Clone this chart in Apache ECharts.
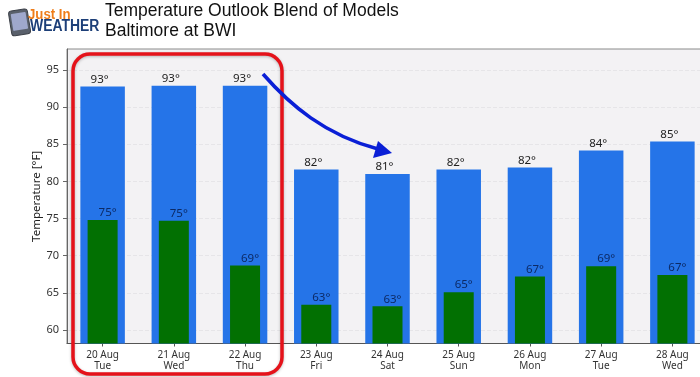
<!DOCTYPE html>
<html>
<head>
<meta charset="utf-8">
<style>html,body{margin:0;padding:0;background:#fff;overflow:hidden}#c{width:700px;height:377px}</style>
<script src="https://cdn.jsdelivr.net/npm/echarts@6/dist/echarts.min.js"></script>
</head>
<body>
<div id="c"></div>
<script>
const categories = ['20 Aug\nTue','21 Aug\nWed','22 Aug\nThu','23 Aug\nFri','24 Aug\nSat','25 Aug\nSun','26 Aug\nMon','27 Aug\nTue','28 Aug\nWed'];
const highs = [92.75,92.85,92.85,81.6,81.0,81.6,81.85,84.15,85.35];
const lows = [74.8,74.7,68.7,63.4,63.2,65.1,67.2,68.6,67.4];
const highLabels = ['93°','93°','93°','82°','81°','82°','82°','84°','85°'];
const lowLabels = ['75°','75°','69°','63°','63°','65°','67°','69°','67°'];
const yTicks = [60,65,70,75,80,85,90,95];
const titleLines = 'Temperature Outlook Blend of Models\nBaltimore at BWI';
const yName = 'Temperature [°F]';

const font = '"Noto Sans", "Open Sans", sans-serif';
const chart = echarts.init(document.getElementById('c'), null, {renderer:'canvas'});
const xAxisBase = {
  type:'category', data:categories, position:'bottom', boundaryGap:true
};
chart.setOption({
  animation:false,
  backgroundColor:'#ffffff',
  title:{
    text:titleLines, left:100, top:-4,
    textStyle:{fontFamily:'"Liberation Sans", Arial, sans-serif', fontSize:17.5, fontWeight:'normal', color:'#111', lineHeight:20}
  },
  grid:{left:67, width:641, top:49, height:294.5, outerBoundsMode:'none', show:true, backgroundColor:'#f3f2f4', borderColor:'#8a8a8a', borderWidth:1},
  xAxis:[
    Object.assign({}, xAxisBase, {
      axisLine:{show:true, lineStyle:{color:'#555', width:1}},
      axisTick:{show:true, alignWithLabel:true, length:3, lineStyle:{color:'#555'}},
      axisLabel:{show:true, interval:0, fontFamily:font, fontSize:10, color:'#333', lineHeight:11, margin:6},
      splitLine:{show:false}
    }),
    Object.assign({}, xAxisBase, {
      axisLine:{show:false}, axisTick:{show:false}, axisLabel:{show:false}, splitLine:{show:false}
    })
  ],
  yAxis:{
    type:'value', min:58.2, max:97.8,
    name:yName, nameLocation:'middle', nameGap:24, nameMoveOverlap:false,
    nameTextStyle:{fontFamily:font, fontSize:11.5, color:'#222'},
    axisLine:{show:true, lineStyle:{color:'#666', width:1}},
    axisTick:{show:true, length:4, lineStyle:{color:'#666'}, customValues:yTicks},
    axisLabel:{fontFamily:font, fontSize:11, color:'#333', margin:8, customValues:yTicks},
    splitLine:{show:true, lineStyle:{color:'#e6e5e8', width:1, type:'dashed'}}
  },
  series:[
    {
      type:'bar', name:'High', xAxisIndex:0, data:highs, barWidth:44.5,
      itemStyle:{color:'#2574e8'}, z:2,
      label:{show:true, position:'top', distance:1, offset:[-3,0], fontFamily:font, fontSize:11.5, color:'#222',
        formatter:p=>highLabels[p.dataIndex]}
    },
    {
      type:'bar', name:'Low', xAxisIndex:1, data:lows, barWidth:30,
      itemStyle:{color:'#027002'}, z:3,
      label:{show:true, position:'top', distance:1, offset:[5,0], fontFamily:font, fontSize:11.5, color:'#0c2a66',
        formatter:p=>lowLabels[p.dataIndex]}
    }
  ],
  graphic:[
    {type:'rect', z:50, shape:{x:73,y:54,width:209,height:320,r:17},
      style:{fill:'none', stroke:'#e5121a', lineWidth:3.5, shadowBlur:3, shadowColor:'rgba(0,0,0,0.25)', shadowOffsetY:1}},
    {type:'bezierCurve', z:51, shape:{x1:263,y1:74,cpx1:290,cpy1:105,cpx2:325,cpy2:135,x2:378,y2:149},
      style:{fill:'none', stroke:'#0a1fd6', lineWidth:3.6}},
    {type:'polygon', z:52, shape:{points:[[392,153],[378,141],[373,158]]}, style:{fill:'#0a1fd6'}},
    {type:'rect', z:60, rotation:0.16, originX:19, originY:22, shape:{x:10,y:10,width:19,height:25,r:3},
      style:{fill:'#59606b', stroke:'#3c4048', lineWidth:1}},
    {type:'rect', z:61, rotation:0.16, originX:19, originY:22, shape:{x:12,y:13,width:15,height:17,r:1},
      style:{fill:'#9fa8cc'}},
    {type:'text', z:62, x:28, y:7, scaleX:0.88, style:{text:'Just In', fontFamily:'"Liberation Sans",sans-serif', fontWeight:'bold', fontSize:15, fill:'#ef7d1a'}},
    {type:'text', z:62, x:30, y:19, scaleX:0.87, style:{text:'WEATHER', fontFamily:'"Liberation Sans",sans-serif', fontWeight:'bold', fontSize:16, fill:'#1d3f78'}}
  ]
});
</script>
</body>
</html>
